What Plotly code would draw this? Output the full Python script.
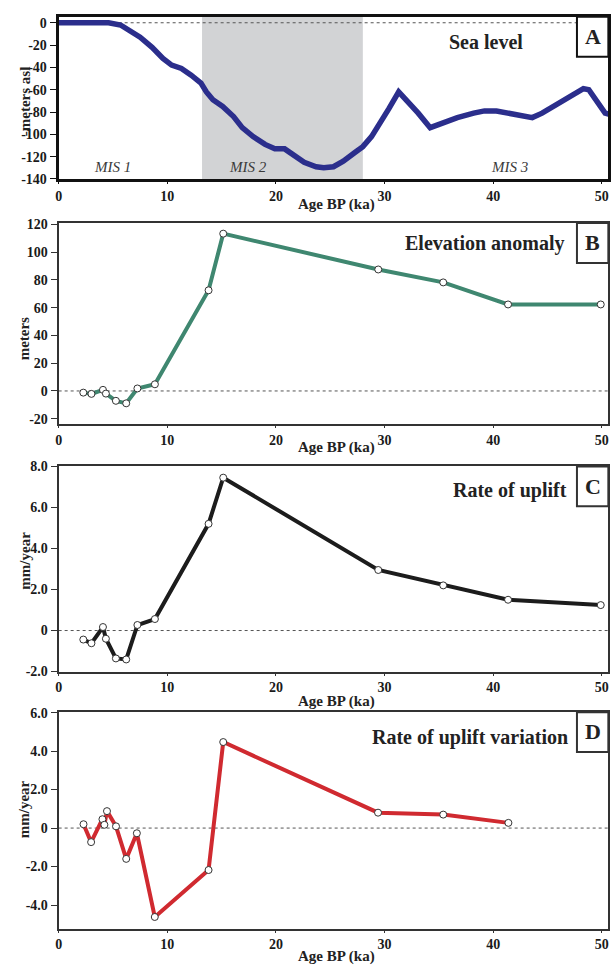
import plotly.graph_objects as go

W, H = 616, 970

# ---------------- data ----------------
# Panel A: sea level curve (ka, m asl)
sl_age = [0, 2.0, 4.6, 5.7, 6.4, 7.5, 8.6, 9.6, 10.4, 11.3, 12.2, 13.1, 13.6, 14.2, 15.1,
          16.1, 16.9, 17.9, 19.0, 19.9, 20.8, 21.7, 22.6, 23.7, 24.4, 25.3, 26.2, 27.3,
          28.0, 28.8, 29.5, 30.4, 31.3, 32.0, 33.1, 34.2, 35.3, 36.7, 38.2, 39.2, 40.3,
          41.4, 42.5, 43.6, 44.5, 45.7, 47.0, 48.3, 48.8, 49.4, 50.3, 50.7]
sl_level = [0, 0, 0, -2, -6, -13, -22, -32, -38, -41, -47, -54, -62, -69, -75,
            -84, -94, -102, -109, -113, -113, -119, -125, -129, -130, -129, -124, -116,
            -111, -102, -90, -77, -62, -69, -81, -94, -90, -85, -81, -79, -79,
            -81, -84, -85, -81, -74, -66, -59, -60, -69, -81, -82]

# Panels B and C share ages
bc_age = [2.27, 3.02, 4.08, 4.35, 5.27, 6.22, 7.25, 8.86, 13.8, 15.15, 29.42, 35.4, 41.37, 49.9]
elev_anom = [-1.2, -2.1, 0.8, -1.9, -7.1, -8.9, 1.8, 4.8, 72.5, 113.3, 87.5, 78.2, 62.3, 62.3]
uplift_rate = [-0.44, -0.62, 0.17, -0.40, -1.36, -1.41, 0.27, 0.56, 5.2, 7.45, 2.95, 2.2, 1.5, 1.24]

# Panel D
d_age = [2.29, 2.99, 4.03, 4.21, 4.45, 5.28, 6.22, 7.2, 8.85, 13.8, 15.15, 29.4, 35.4, 41.4]
uplift_var = [0.2, -0.73, 0.46, 0.17, 0.88, 0.09, -1.6, -0.27, -4.62, -2.18, 4.47, 0.8, 0.7, 0.27]

x_ticks = [0, 10, 20, 30, 40, 50]
x_labels = ["0", "10", "20", "30", "40", "50"]
a_ticks = [0, -20, -40, -60, -80, -100, -120, -140]
a_labels = ["0", "-20", "-40", "-60", "-80", "-100", "-120", "-140"]
b_ticks = [-20, 0, 20, 40, 60, 80, 100, 120]
b_labels = ["-20", "0", "20", "40", "60", "80", "100", "120"]
c_ticks = [-2, 0, 2, 4, 6, 8]
c_labels = ["-2.0", "0", "2.0", "4.0", "6.0", "8.0"]
d_ticks = [-4, -2, 0, 2, 4, 6]
d_labels = ["-4.0", "-2.0", "0", "2.0", "4.0", "6.0"]

mis_names = ["MIS 1", "MIS 2", "MIS 3"]
mis_pos = [5.0, 17.4, 41.5]
mis2_span = [13.2, 28.0]

titles = ["Sea level", "Elevation anomaly", "Rate of uplift", "Rate of uplift variation"]
letters = ["A", "B", "C", "D"]
y_titles = ["-meters asl", "meters", "mm/year", "mm/year"]

# ---------------- layout helpers ----------------
SERIF = "Liberation Serif, Times New Roman, serif"
def px(x):
    return x / W
def py(y):
    return 1 - y / H
def bold(lst):
    return ["<b>%s</b>" % s for s in lst]

X_L, X_R = 55, 608.3
frames = [(10, 174.7), (219.5, 423.7), (466.6, 675.0), (716.3, 936.0)]
yranges = [[-140, 5.3], [-23.9, 120.9], [-2.0, 8.0], [-5.22, 6.02]]

fig = go.Figure()

series = [
    (sl_age, sl_level, "#2b2e8c", 5.5, False),
    (bc_age, elev_anom, "#3f8770", 4, True),
    (bc_age, uplift_rate, "#1c1c1c", 4, True),
    (d_age, uplift_var, "#d02a30", 4, True),
]

for i, (xs, ys, col, lw, mk) in enumerate(series):
    sfx = "" if i == 0 else str(i + 1)
    fig.add_trace(go.Scatter(
        x=xs, y=ys, xaxis="x" + sfx, yaxis="y" + sfx,
        mode="lines+markers" if mk else "lines",
        line=dict(color=col, width=lw),
        marker=dict(size=7, color="white", line=dict(color="#333333", width=1)),
        showlegend=False, hoverinfo="x+y"))

layout = dict(width=W, height=H, autosize=False, margin=dict(l=0, r=0, t=0, b=0),
              paper_bgcolor="white", plot_bgcolor="white", showlegend=False,
              font=dict(family=SERIF, color="#222222"))

tick_sets = [(a_ticks, a_labels), (b_ticks, b_labels), (c_ticks, c_labels), (d_ticks, d_labels)]
shapes = []
annotations = []
x_title_off = [26, 24, 30, 28]
y_title_center = [95.8, 336.7, 562.5, 815.0]
title_right = [524, 566, 568.7, 570]
title_dy = [26, 21, 25, 25.4]

for i in range(4):
    sfx = "" if i == 0 else str(i + 1)
    top, bot = frames[i]
    lw = 3 if i == 0 else 2
    fcol = "#111111" if i == 0 else "#333333"
    xa = dict(domain=[px(X_L), px(X_R)], range=[0, 50.6], anchor="y" + sfx,
              tickvals=x_ticks, ticktext=bold(x_labels), ticks="outside", ticklen=2,
              tickcolor=fcol,
              showline=True, linecolor=fcol, linewidth=lw, mirror=True,
              showgrid=False, zeroline=False,
              tickfont=dict(family=SERIF, size=14, color="#1a1a1a"))
    tv, tt = tick_sets[i]
    ya = dict(domain=[py(bot), py(top)], range=yranges[i], anchor="x" + sfx,
              tickvals=tv, ticktext=bold(tt), ticks="outside", ticklen=6, tickcolor=fcol,
              showline=True, linecolor=fcol, linewidth=lw, mirror=True,
              showgrid=False, zeroline=False,
              tickfont=dict(family=SERIF, size=14, color="#1a1a1a"))
    layout["xaxis" + sfx] = xa
    layout["yaxis" + sfx] = ya

    # zero dotted line
    shapes.append(dict(type="line", xref="x" + sfx + " domain", yref="y" + sfx,
                       x0=0, x1=1, y0=0, y1=0, layer="below",
                       line=dict(color="#555555", width=1, dash="dot")))
    # panel letter box
    shapes.append(dict(type="rect", xref="paper", yref="paper",
                       x0=px(576.7), x1=px(X_R), y0=py(top + 40.5), y1=py(top),
                       fillcolor="white", line=dict(color=fcol, width=2), layer="above"))
    annotations.append(dict(text="<b>%s</b>" % letters[i], xref="paper", yref="paper",
                            x=px(592.5), y=py(top + 20), xanchor="center", yanchor="middle",
                            showarrow=False,
                            font=dict(family=SERIF, size=22, color="#222222")))
    annotations.append(dict(text="<b>%s</b>" % titles[i], xref="paper", yref="paper",
                            x=px(title_right[i]), y=py(top + title_dy[i]),
                            xanchor="right", yanchor="middle", showarrow=False,
                            font=dict(family=SERIF, size=20, color="#222222")))
    # axis titles
    annotations.append(dict(text="<b>Age BP (ka)</b>", xref="paper", yref="paper",
                            x=px(335), y=py(bot + x_title_off[i]),
                            xanchor="center", yanchor="middle", showarrow=False,
                            font=dict(family=SERIF, size=15, color="#222222")))
    annotations.append(dict(text="<b>%s</b>" % y_titles[i], xref="paper", yref="paper",
                            x=px(21), y=py(y_title_center[i]), textangle=-90,
                            xanchor="center", yanchor="middle", showarrow=False,
                            font=dict(family=SERIF, size=15, color="#222222")))

# MIS 2 shading in panel A
shapes.insert(0, dict(type="rect", xref="x", yref="y domain", x0=mis2_span[0], x1=mis2_span[1],
                      y0=0, y1=1, fillcolor="#d2d3d5", line=dict(width=0), layer="below"))
for name, xpos in zip(mis_names, mis_pos):
    annotations.append(dict(text="<i>%s</i>" % name, xref="x", yref="y", x=xpos, y=-129,
                            xanchor="center", yanchor="middle", showarrow=False,
                            font=dict(family=SERIF, size=15, color="#3a3a3a")))

layout["shapes"] = shapes
layout["annotations"] = annotations
fig.update_layout(**layout)
fig.write_html("out.html")
